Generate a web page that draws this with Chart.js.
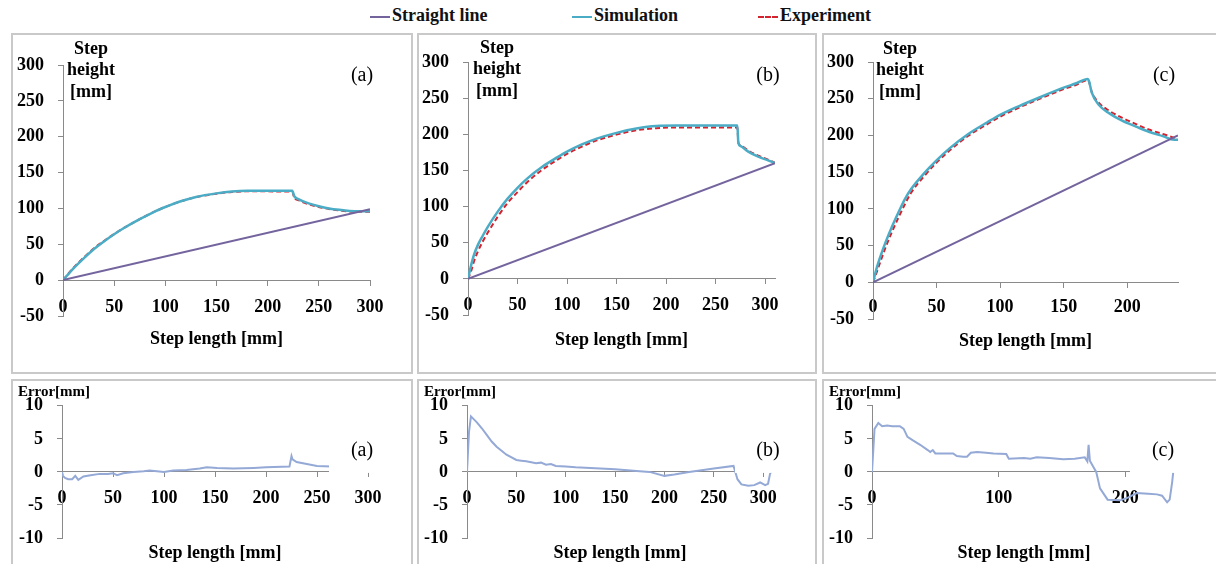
<!DOCTYPE html>
<html>
<head>
<meta charset="utf-8">
<script src="https://cdn.jsdelivr.net/npm/chart.js@4.4.1/dist/chart.umd.min.js"></script>
<style>
  html, body { margin: 0; padding: 0; background: #fff; overflow: hidden; }
  body { width: 1216px; height: 564px; position: relative; font-family: "Liberation Serif", "Times New Roman", serif; }
  .legend { position: absolute; top: 5px; font-weight: bold; font-size: 18px; line-height: 20px; white-space: nowrap; color: #111; }
  .legend i { display: inline-block; width: 20px; height: 0; border-top: 2.5px solid; vertical-align: middle; margin-right: 2px; }
  .box { position: absolute; border: 2px solid #c9c9c9; box-sizing: border-box; }
  .box div { position: absolute; left: 0; top: 0; right: 0; bottom: 0; }
</style>
</head>
<body>
<div class="legend" style="left:370px"><i style="color:#74649e"></i>Straight line</div>
<div class="legend" style="left:572px"><i style="color:#4bacc6"></i>Simulation</div>
<div class="legend" style="left:758px"><i style="color:#d3232f;border-top-style:dashed;border-top-width:2px"></i>Experiment</div>

<div class="box" style="left:11px;top:33px;width:402px;height:341px"><div><canvas id="topA"></canvas></div></div>
<div class="box" style="left:417px;top:33px;width:400px;height:341px"><div><canvas id="topB"></canvas></div></div>
<div class="box" style="left:822px;top:33px;width:396px;height:341px"><div><canvas id="topC"></canvas></div></div>
<div class="box" style="left:11px;top:379px;width:402px;height:187px"><div><canvas id="errA"></canvas></div></div>
<div class="box" style="left:417px;top:379px;width:400px;height:187px"><div><canvas id="errB"></canvas></div></div>
<div class="box" style="left:822px;top:379px;width:396px;height:187px"><div><canvas id="errC"></canvas></div></div>

<script>
// ---- panel (a) ----
var strAx = [0, 300];
var strAy = [0, 99];
var simAx = [0, 5, 10, 20, 30, 40, 50, 60, 75, 90, 100, 115, 130, 150, 165, 180, 200, 215, 224, 226, 230, 240, 250, 260, 270, 280, 290, 300];
var simAy = [0, 8, 16, 30, 43, 54, 64, 73, 85, 96, 102, 110, 116, 121, 123.5, 124.5, 124.5, 124.5, 124.5, 117, 113, 107, 103, 100, 98, 96.5, 96, 96];
var expAy = [0, 8.8, 17, 31, 44, 54.6, 64.3, 73.2, 85, 95.9, 102, 109.8, 115.7, 120.5, 123, 123.9, 123.8, 123.7, 123.7, 115, 111.5, 105.9, 102.1, 99.2, 97.2, 95.7, 95.3, 95.3];
var errAx = [0, 1, 3, 6, 10, 13, 16, 21, 28, 37, 45, 50, 54, 60, 70, 80, 86, 100, 109, 122, 135, 142, 152, 168, 188, 200, 223, 225, 226, 230, 240, 250, 264];
var errAy = [0, -0.6, -0.9, -1.1, -1.1, -0.6, -1.2, -0.7, -0.5, -0.3, -0.3, -0.2, -0.5, -0.2, 0, 0.1, 0.2, 0, 0.2, 0.3, 0.5, 0.7, 0.6, 0.5, 0.6, 0.7, 0.8, 2.4, 1.9, 1.5, 1.2, 0.9, 0.8];

// ---- panel (b) ----
var strBx = [0, 310];
var strBy = [0, 160];
var simBx = [0, 3, 6, 10, 15, 20, 30, 40, 50, 60, 75, 90, 100, 115, 130, 150, 170, 190, 210, 240, 272, 273, 275, 283, 293, 303, 310];
var simBy = [0, 18, 33, 47, 60, 72, 93, 111, 126, 139, 155, 168, 176, 186, 194, 202, 208, 211.5, 212, 212, 212, 188, 184, 176, 169, 164, 160];
var expBy = [0, 10, 24, 38, 52, 64, 86, 105, 120, 134, 151, 164.5, 173, 183, 191.5, 199.5, 205.5, 208.5, 209.5, 209.5, 209.5, 188, 185, 177.5, 170.5, 165, 160.5];
var errBx = [0, 2, 4, 6, 10, 15, 20, 25, 30, 40, 50, 55, 60, 70, 75, 80, 85, 90, 100, 110, 125, 150, 175, 185, 200, 210, 225, 250, 270, 274, 278, 285, 291, 297, 302, 305, 307, 310];
var errBy = [0, 6, 8.4, 8.1, 7.5, 6.6, 5.6, 4.6, 3.8, 2.6, 1.8, 1.7, 1.6, 1.3, 1.4, 1.1, 1.2, 0.9, 0.8, 0.7, 0.6, 0.4, 0.1, 0, -0.6, -0.4, 0, 0.5, 0.9, -1.1, -1.9, -2.1, -2.0, -1.6, -2.0, -1.8, -0.3, 0.5];

// ---- panel (c) ----
var strCx = [0, 240];
var strCy = [0, 200];
var simCx = [0, 3, 6, 10, 15, 20, 25, 30, 40, 50, 60, 75, 90, 100, 115, 130, 150, 160, 169, 170, 172, 178, 186, 196, 207, 217, 228, 237, 240];
var simCy = [0, 20, 36, 55, 76, 95, 113, 127, 148, 166, 182, 202, 218, 228, 240, 251, 265, 271, 277, 274, 259, 241, 230, 220, 212, 205, 199, 194, 194];
var expCy = [0, 14, 29, 48, 69, 88, 106, 122, 144, 163, 179, 199.5, 215.5, 225.5, 238, 249, 263, 269, 275.5, 273, 260, 244, 233.5, 224, 215.5, 208, 202, 197, 196];
var errCx = [0, 2, 5, 8, 12, 16, 22, 25, 28, 32, 38, 44, 46, 48, 50, 55, 64, 67, 72, 75, 78, 83, 90, 96, 106, 108, 120, 125, 130, 140, 151, 160, 168, 170, 171, 172, 174, 177, 180, 186, 196, 202, 209, 218, 225, 229, 233, 235, 237, 238];
var errCy = [0, 6.5, 7.4, 6.9, 7, 6.9, 6.9, 6.5, 5.3, 4.8, 4.1, 3.3, 3.0, 3.3, 2.8, 2.8, 2.8, 2.4, 2.3, 2.3, 2.9, 3.0, 2.9, 2.8, 2.7, 2.0, 2.1, 2.0, 2.2, 2.1, 1.9, 2.0, 2.2, 1.6, 4.1, 1.7, 1.0, 0, -2.5, -4.2, -4.3, -3.9, -3.2, -3.3, -3.4, -3.6, -4.6, -4.2, -1.5, 0.3];

var heightTicks = [-50, 300, 50];
var errorTicks = [-10, 10, 5];

var axisColor = '#8a8a8a';
Chart.defaults.font.family = '"Liberation Serif", "Times New Roman", serif';
Chart.defaults.font.size = 18;
Chart.defaults.font.weight = 'bold';
Chart.defaults.color = '#000';

function pts(xs, ys) {
  return xs.map(function (x, i) { return { x: x, y: ys[i] }; });
}

function heightSets(sx, sy, mx, my, ey) {
  return [
    { label: 'Straight line', data: pts(sx, sy), borderColor: '#74649e', borderWidth: 2 },
    { label: 'Simulation', data: pts(mx, my), borderColor: '#4bacc6', borderWidth: 2.5, cubicInterpolationMode: 'monotone' },
    { label: 'Experiment', data: pts(mx, ey), borderColor: '#d3232f', borderWidth: 2, borderDash: [5, 3], cubicInterpolationMode: 'monotone' }
  ];
}

function errorSets(ex, ey) {
  return [{ label: 'Error', data: pts(ex, ey), borderColor: '#94a9d6', borderWidth: 2 }];
}

// panel label, in-plot y title, white box behind the label on error plots
var panelText = {
  id: 'panelText',
  afterDatasetsDraw: function (chart, args, o) {
    var ctx = chart.ctx, a = chart.chartArea;
    ctx.save();
    if (o.cover) {
      var y0 = chart.scales.y.getPixelForValue(0);
      ctx.fillStyle = '#fff';
      ctx.fillRect(o.lx - 33, o.ly - 28, 80, y0 + 1 - (o.ly - 28));
    }
    ctx.fillStyle = '#000';
    ctx.textAlign = 'center';
    ctx.textBaseline = 'middle';
    ctx.font = '20px "Liberation Serif"';
    ctx.fillText(o.label, o.lx, o.ly);
    ctx.font = 'bold ' + o.tsize + 'px "Liberation Serif"';
    o.title.forEach(function (t, i) {
      ctx.fillText(t, a.left + o.tx, o.ty + i * 21.5);
    });
    ctx.restore();
  }
};

function makePanel(id, p) {
  new Chart(document.getElementById(id), {
    type: 'line',
    data: { datasets: p.datasets },
    options: {
      responsive: true,
      maintainAspectRatio: false,
      animation: false,
      layout: { padding: { top: p.pt, right: p.pr, left: 0, bottom: p.xh } },
      elements: { point: { radius: 0 }, line: { tension: 0 } },
      plugins: {
        legend: { display: false },
        tooltip: { enabled: false },
        panelText: p.text
      },
      scales: {
        x: {
          type: 'linear',
          position: { y: 0 },
          min: 0,
          max: p.xmax,
          ticks: { stepSize: p.xstep, includeBounds: false, padding: p.xpad, maxRotation: 0 },
          grid: { drawOnChartArea: false, tickLength: 5, color: axisColor },
          border: { color: axisColor },
          title: { display: true, text: 'Step length [mm]', padding: { top: 0, bottom: p.tpb } },
          afterFit: function (s) { s.height = p.xh; }
        },
        y: {
          min: p.yt[0],
          max: p.yt[1],
          ticks: { stepSize: p.yt[2], padding: 14 },
          grid: { drawOnChartArea: false, tickLength: 5, color: axisColor },
          border: { color: axisColor },
          afterFit: function (s) { s.width = p.yw; }
        }
      }
    },
    plugins: [panelText]
  });
}

var stepTitle = ['Step', 'height', '[mm]'];

makePanel('topA', {
  datasets: heightSets(strAx, strAy, simAx, simAy, expAy),
  xmax: 300, xstep: 50, yt: heightTicks,
  pt: 30, pr: 41, yw: 50, xh: 56, xpad: 11, tpb: -13.8,
  text: { label: '(a)', lx: 349, ly: 41, title: stepTitle, tsize: 18, tx: 28, ty: 14, cover: false }
});
makePanel('topB', {
  datasets: heightSets(strBx, strBy, simBx, simBy, expBy),
  xmax: 310, xstep: 50, yt: heightTicks,
  pt: 27, pr: 40, yw: 49, xh: 57, xpad: 11, tpb: -14.8,
  text: { label: '(b)', lx: 349, ly: 41, title: stepTitle, tsize: 18, tx: 29, ty: 13, cover: false }
});
makePanel('topC', {
  datasets: heightSets(strCx, strCy, simCx, simCy, expCy),
  xmax: 240, xstep: 50, yt: heightTicks,
  pt: 27, pr: 38, yw: 49, xh: 53, xpad: 9, tpb: -16.8,
  text: { label: '(c)', lx: 340, ly: 41, title: stepTitle, tsize: 18, tx: 27, ty: 14, cover: false }
});

makePanel('errA', {
  datasets: errorSets(errAx, errAy),
  xmax: 300, xstep: 50, yt: errorTicks,
  pt: 22, pr: 43, yw: 49, xh: 26, xpad: 11, tpb: -66.3,
  text: { label: '(a)', lx: 349, ly: 70, title: ['Error[mm]'], tsize: 15, tx: -8, ty: 11, cover: true }
});
makePanel('errB', {
  datasets: errorSets(errBx, errBy),
  xmax: 310, xstep: 50, yt: errorTicks,
  pt: 22, pr: 42, yw: 48, xh: 26, xpad: 11, tpb: -66.3,
  text: { label: '(b)', lx: 349, ly: 70, title: ['Error[mm]'], tsize: 15, tx: -7, ty: 11, cover: true }
});
makePanel('errC', {
  datasets: errorSets(errCx, errCy),
  xmax: 240, xstep: 100, yt: errorTicks,
  pt: 22, pr: 40, yw: 48, xh: 26, xpad: 11, tpb: -66.3,
  text: { label: '(c)', lx: 339, ly: 70, title: ['Error[mm]'], tsize: 15, tx: -7, ty: 11, cover: true }
});
</script>
</body>
</html>
